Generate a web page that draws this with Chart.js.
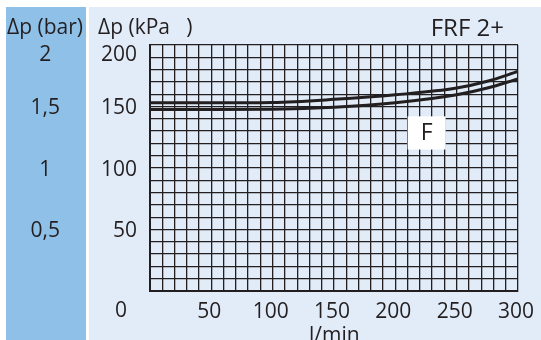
<!DOCTYPE html>
<html>
<head>
<meta charset="utf-8">
<script src="https://cdn.jsdelivr.net/npm/chart.js@4"></script>
<style>
  html, body { margin: 0; padding: 0; background: #fff; }
</style>
</head>
<body>
<canvas id="chartCanvas" width="541" height="340"></canvas>
<script>
// Pressure drop vs. flow, FRF 2+ filter
const flow = [0, 50, 100, 150, 200, 250, 275, 300];            // l/min
const dpUpper = [153, 153, 153.3, 155.8, 159.5, 165, 170.5, 178.5]; // kPa
const dpLower = [147.5, 147.5, 147.7, 149.3, 153, 159.5, 165, 172.5]; // kPa
const kpaTicks = [50, 100, 150, 200];
const barTicks = ["0,5", "1", "1,5", "2"];
const flowTicks = [50, 100, 150, 200, 250, 300];

const INK = "#231f20";
const FONT = "'Open Sans', sans-serif";

const toPoints = ys => flow.map((q, i) => ({ x: q, y: ys[i] }));

// top label sits a little lower so it clears the axis titles
const dropTop = (label, isTop) => isTop ? ["", label] : label;

const panels = {
    id: "panels",
    beforeDraw(chart) {
        const ctx = chart.ctx;
        ctx.save();
        ctx.fillStyle = "#ffffff";
        ctx.fillRect(0, 0, chart.width, chart.height);
        ctx.fillStyle = "#8fc0e7";
        ctx.fillRect(6, 7, 80, chart.height - 7);
        ctx.fillStyle = "#e1ecf8";
        ctx.fillRect(89, 7, chart.width - 89, chart.height - 7);
        ctx.restore();
    },
    afterDraw(chart) {
        const { ctx, chartArea, scales } = chart;
        ctx.save();
        ctx.fillStyle = INK;
        ctx.textBaseline = "alphabetic";

        ctx.font = "21px " + FONT;
        ctx.textAlign = "left";
        ctx.fillText("\u0394p (bar)", 7, 34);
        ctx.fillText("\u0394p (kPa   )", 98, 34);

        ctx.font = "24px " + FONT;
        ctx.textAlign = "right";
        ctx.fillText("FRF 2+", 504, 36);

        ctx.font = "21px " + FONT;
        ctx.textAlign = "center";
        ctx.fillText("0", chartArea.left - 29, 317);
        ctx.textAlign = "left";
        ctx.fillText("l/min", 309, 342);

        // "F" curve tag
        const x0 = scales.x.getPixelForValue(210);
        const x1 = scales.x.getPixelForValue(241);
        const y0 = scales.y.getPixelForValue(142);
        const y1 = scales.y.getPixelForValue(115);
        ctx.fillStyle = "#ffffff";
        ctx.fillRect(x0, y0, x1 - x0, y1 - y0);
        ctx.fillStyle = INK;
        ctx.font = "23px " + FONT;
        ctx.textAlign = "center";
        ctx.textBaseline = "middle";
        ctx.fillText("F", (x0 + x1) / 2, (y0 + y1) / 2 + 1);
        ctx.restore();
    }
};

const lineStyle = {
    borderColor: INK,
    borderWidth: 3,
    pointRadius: 0,
    fill: false,
    cubicInterpolationMode: "monotone"
};

new Chart(document.getElementById("chartCanvas").getContext("2d"), {
    type: "line",
    data: {
        datasets: [
            { label: "upper", data: toPoints(dpUpper), ...lineStyle },
            { label: "lower", data: toPoints(dpLower), ...lineStyle }
        ]
    },
    options: {
        responsive: false,
        animation: false,
        layout: { padding: { top: 45, right: 23, left: 0, bottom: 0 } },
        plugins: { legend: { display: false }, tooltip: { enabled: false } },
        scales: {
            x: {
                type: "linear",
                min: 0,
                max: 300,
                ticks: {
                    stepSize: 10,
                    autoSkip: false,
                    maxRotation: 0,
                    padding: 4,
                    labelOffset: -2,
                    color: INK,
                    font: { family: FONT, size: 21, lineHeight: 1.6 },
                    callback: v => flowTicks.includes(v) ? String(v) : ""
                },
                grid: { color: INK, lineWidth: 1.3, drawTicks: false },
                border: { color: INK, width: 2 },
                afterFit: s => { s.height = 49; }
            },
            y: {
                position: "left",
                weight: 0,
                min: 0,
                max: 200,
                ticks: {
                    stepSize: 10,
                    autoSkip: false,
                    padding: 13,
                    labelOffset: 2,
                    color: INK,
                    font: { family: FONT, size: 21, lineHeight: 0.8 },
                    callback: v => kpaTicks.includes(v) ? dropTop(String(v), v === 200) : ""
                },
                grid: { color: INK, lineWidth: 1.3, drawTicks: false },
                border: { color: INK, width: 2 },
                afterFit: s => { s.width = 64; }
            },
            yBar: {
                position: "left",
                weight: 10,
                min: 0,
                max: 2,
                ticks: {
                    stepSize: 0.5,
                    crossAlign: "center",
                    padding: 26,
                    labelOffset: 2,
                    color: INK,
                    font: { family: FONT, size: 21, lineHeight: 0.8 },
                    callback: v => {
                        const i = [0.5, 1, 1.5, 2].indexOf(v);
                        return i >= 0 ? dropTop(barTicks[i], v === 2) : "";
                    }
                },
                grid: { display: false, drawTicks: false },
                border: { display: false },
                afterFit: s => { s.width = 86; }
            }
        }
    },
    plugins: [panels]
});
</script>
</body>
</html>
